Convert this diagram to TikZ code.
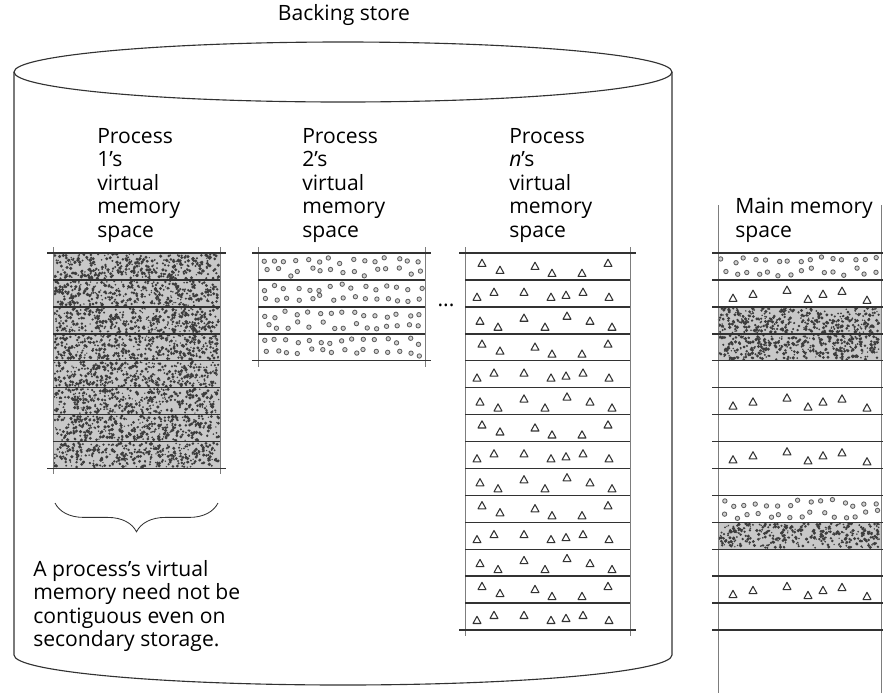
\documentclass[tikz,border=0pt]{standalone}
\usepackage{fontspec}
\setmainfont{Open Sans}
\usepackage{tikz}
\usetikzlibrary{decorations.pathreplacing}
\definecolor{myink}{RGB}{50,50,50}
\definecolor{myedge}{RGB}{125,125,125}
\definecolor{myspeck}{RGB}{60,60,60}
\definecolor{myspeckbg}{RGB}{200,200,200}
\definecolor{myring}{RGB}{95,95,95}
\definecolor{myringfill}{RGB}{210,210,210}
\tikzset{
  drum/.style={draw=myink, line width=0.8pt},
  rowline/.style={draw=myink, line width=1pt},
  edgeline/.style={draw=myedge, line width=0.5pt},
  speckbg/.style={fill=myspeckbg},
  speckdot/.style={fill=myspeck},
  ringdot/.style={draw=myring, fill=myringfill, line width=0.6pt},
  trimark/.style={draw=myink, line width=0.75pt, line join=round},
  plabel/.style={anchor=north west, align=left, inner sep=0pt,
    font=\fontsize{15pt}{16.7pt}\selectfont},
  title/.style={inner sep=0pt, font=\fontsize{15pt}{16.7pt}\selectfont},
  bracket/.style={decorate, decoration={brace, mirror, amplitude=0.72cm},
    draw=myink, line width=0.6pt}
}
\newcommand{\rowh}{26.93}
% one row of dense speckle
\newcommand{\speckrow}[4]{%
  \fill[speckbg] (#1,#2) rectangle ++(#3,#4);
  \foreach \k in {1,...,380}{%
    \pgfmathsetmacro{\sx}{#1+1.2+rnd*(#3-2.4)}%
    \pgfmathsetmacro{\sy}{#2+1.2+rnd*(#4-2.4)}%
    \pgfmathsetmacro{\sr}{0.7+1.1*rnd}%
    \fill[speckdot] (\sx,\sy) circle[radius=\sr];
  }%
}
% one row of small rings
\newcommand{\ringrow}[4]{%
  \foreach \k in {0,...,14}{%
    \pgfmathsetmacro{\sx}{#1+5+\k*(#3-10)/14+(rnd-0.5)*5}%
    \pgfmathsetmacro{\sy}{#2+4+rnd*7}%
    \pgfmathsetmacro{\tx}{#1+9+\k*(#3-14)/14+(rnd-0.5)*5}%
    \pgfmathsetmacro{\ty}{#2+15+rnd*8}%
    \draw[ringdot] (\sx,\sy) circle[radius=2.2] (\tx,\ty) circle[radius=2.2];
  }%
}
% one row of triangles
\newcommand{\trirow}[3]{%
  \foreach \dx/\dy in #3
    \draw[trimark] (#1+\dx,#2+\dy) ++(-4,3.4) -- ++(4,-7.2) -- ++(4,7.2) -- cycle;
}
\newcommand{\triA}{17/10, 35/17, 70/13, 87/20, 117/20, 143/10}
\newcommand{\triB}{12/17, 29/12, 59/12, 86/17, 101/15, 118/12, 144/17}
\newcommand{\triC}{15/14, 33/20, 59/11, 80/20, 102/9, 125/14, 147/20}
\newcommand{\triM}{15/18, 35/14, 69/10, 90/19, 105/14, 124/11, 149/20}
% frame of a block of rows
\newcommand{\blockframe}[3]{%
  \pgfmathsetmacro{\ybot}{253+#3*\rowh}%
  \draw[edgeline] (#1,247) -- (#1,\ybot+6) (#2,247) -- (#2,\ybot+6);
  \foreach \r in {1,...,#3}
    \draw[rowline] (#1,253+\r*\rowh) -- (#2,253+\r*\rowh);
  \draw[rowline] (#1-6,253) -- (#2+6,253) (#1-6,\ybot) -- (#2+6,\ybot);
}

\begin{document}
\begin{tikzpicture}[x=0.025cm, y=-0.025cm]
  \useasboundingbox (0,0) rectangle (883,693);
  \pgfmathsetseed{4711}
  % Backing store drum
  \node[title] (bstore) at (344,15) {Backing store};
  \draw[drum] (14,72) -- (14,655) arc[start angle=180, end angle=0, x radius=329, y radius=30] -- (672,72);
  \draw[drum] (343,72) ellipse[x radius=329, y radius=30];
  % Labels
  \node[plabel] (p1text) at (97,128) {Process\\1's\\virtual\\memory\\space};
  \node[plabel] (p2text) at (302,128) {Process\\2's\\virtual\\memory\\space};
  \node[plabel] (pntext) at (509,128) {Process\\\textit{n}'s\\virtual\\memory\\space};
  \node[plabel] (mmtext) at (735,198) {Main memory\\space};
  \node[title] (gap) at (446,305) {...};
  % Process 1
  \foreach \r in {0,...,7}
    \speckrow{53}{253+\r*\rowh}{167}{\rowh};
  \blockframe{53}{220}{8}
  % Process 2
  \foreach \r in {0,...,3}
    \ringrow{258}{253+\r*\rowh}{167}{\rowh};
  \blockframe{258}{425}{4}
  % Process n
  \foreach \r in {0,3,...,12}
    \trirow{465}{253+\r*\rowh}{\triA};
  \foreach \r in {1,4,...,13}
    \trirow{465}{253+\r*\rowh}{\triB};
  \foreach \r in {2,5,...,11}
    \trirow{465}{253+\r*\rowh}{\triC};
  \blockframe{465}{630}{14}
  % Main memory
  \foreach \r in {2,3,10}
    \speckrow{718}{253+\r*\rowh}{163}{\rowh};
  \foreach \r in {0,9}
    \ringrow{718}{253+\r*\rowh}{163}{\rowh};
  \foreach \r in {1,5,7,12}
    \trirow{718}{253+\r*\rowh}{\triM};
  \draw[edgeline] (718,205) -- (718,693) (881,205) -- (881,693);
  \foreach \r in {0,...,14}
    \draw[rowline] (712,253+\r*\rowh) -- (883,253+\r*\rowh);
  % Brace and note
  \coordinate (p1l) at (55,503);
  \coordinate (p1r) at (218,503);
  \draw[bracket] (p1l) -- (p1r);
  \node[plabel] (note) at (33,560) {A process's virtual\\memory need not be\\contiguous even on\\secondary storage.};
\end{tikzpicture}
\end{document}
